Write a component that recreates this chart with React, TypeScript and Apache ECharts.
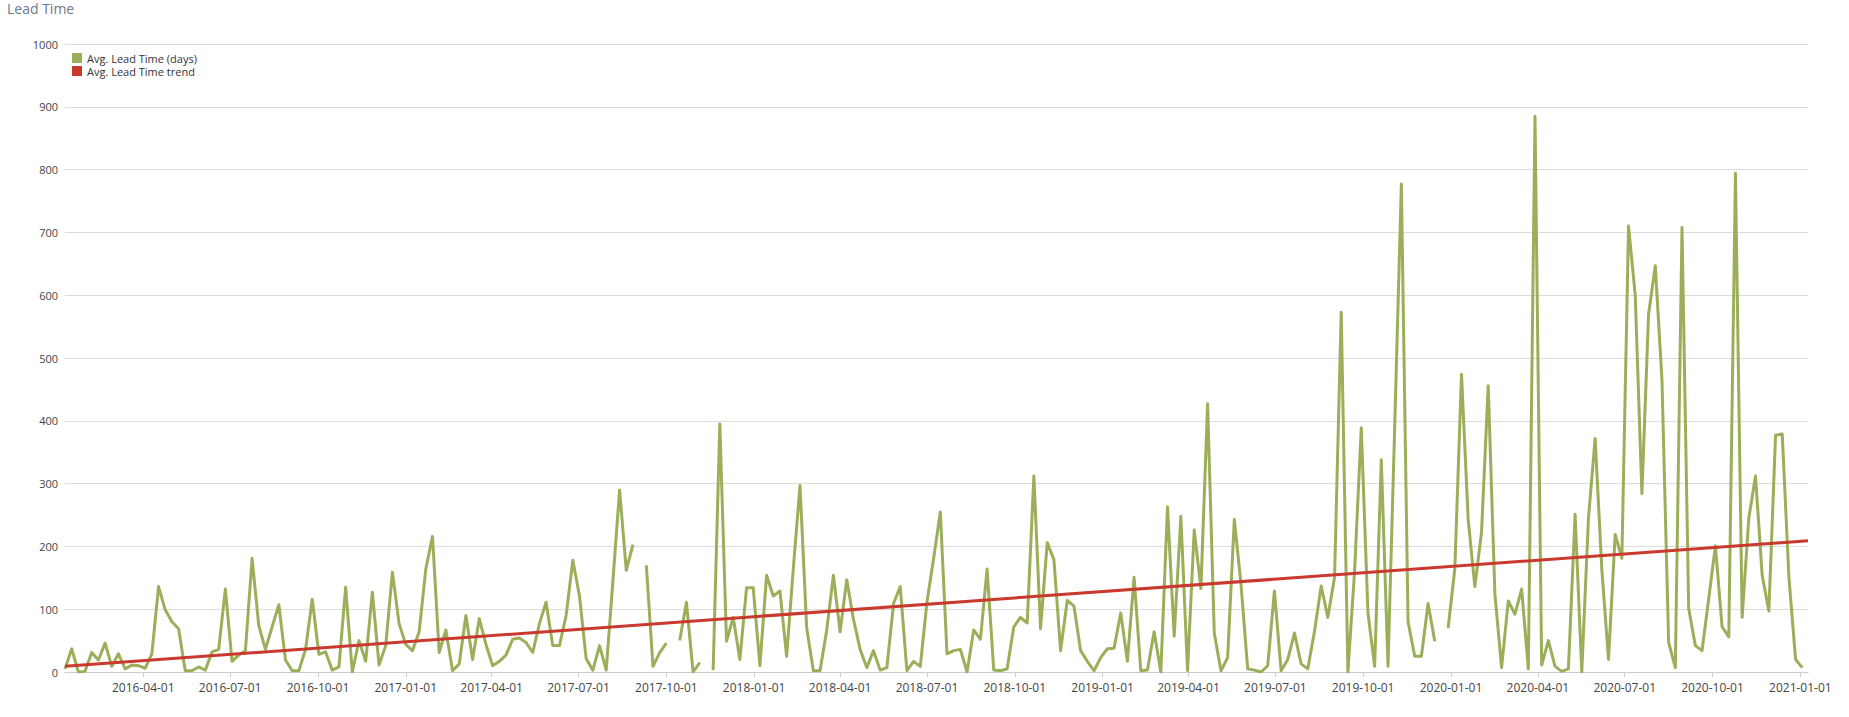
import React, { useEffect, useRef } from 'react';
import * as echarts from 'echarts';

// first weekly bucket and end of the time axis
const startWeek = '2016-01-10';
const axisEnd = '2021-01-09';

// Avg. Lead Time (days), one value per week (null = no data)
const leadTime: (number | null)[] = [
  // 2016
  5, 37, 0, 1, 31, 19, 46, 9, 29, 5, 11, 10, 6, 29, 136, 99, 80, 69, 2, 2, 8, 3, 32, 36, 132, 17, 27, 34, 181, 74,
  36, 72, 107, 19, 2, 2, 36, 116, 28, 32, 3, 8, 135, 0, 50, 17, 127, 11, 42, 159, 77, 44, 34, 64, 164, 216, 31, 67, 2, 13,
  // 2017
  90, 20, 85, 44, 10, 17, 27, 52, 54, 47, 31, 77, 111, 42, 42, 90, 178, 121, 21, 3, 42, 3, 145, 290, 162, 203, null, 170, 9, 31,
  46, null, 50, 111, 0, 15, null, 3, 395, 49, 87, 20, 134, 134, 10, 154, 121, 129, 25, 165, 297, 70, 2, 2, 67, 154, 64, 147, 84, 36,
  // 2018
  7, 34, 3, 7, 109, 136, 2, 17, 9, 111, 181, 255, 29, 34, 36, 0, 67, 52, 164, 3, 2, 5, 72, 87, 78, 312, 69, 206, 179, 34,
  114, 105, 34, 17, 2, 23, 37, 38, 94, 17, 151, 2, 3, 64, 0, 263, 57, 248, 2, 226, 133, 427, 62, 2, 23, 243, 140, 5, 3, 0,
  // 2019
  10, 129, 2, 20, 62, 13, 5, 65, 137, 87, 151, 573, 0, 161, 389, 94, 9, 338, 9, 390, 777, 80, 25, 25, 109, 49, null, 70, 164, 474,
  243, 136, 223, 456, 124, 7, 113, 92, 132, 5, 885, 11, 50, 9, 1, 5, 251, 0, 245, 372, 164, 20, 219, 181, 710, 600, 284, 570, 647, 466,
  // 2020
  47, 7, 708, 101, 42, 34, 117, 201, 72, 56, 794, 87, 245, 312, 154, 97, 377, 379, 151, 20, 7,
];

// Avg. Lead Time trend (linear), at the axis start and end
const trendDates = ['2016-01-10', '2021-01-09'];
const trendValues = [9, 209];

// x-axis tick labels (quarter starts)
const tickLabels = [
  '2016-04-01', '2016-07-01', '2016-10-01',
  '2017-01-01', '2017-04-01', '2017-07-01', '2017-10-01',
  '2018-01-01', '2018-04-01', '2018-07-01', '2018-10-01',
  '2019-01-01', '2019-04-01', '2019-07-01', '2019-10-01',
  '2020-01-01', '2020-04-01', '2020-07-01', '2020-10-01',
  '2021-01-01',
];

const seriesNames = ['Avg. Lead Time (days)', 'Avg. Lead Time trend'];

const DAY = 86400000;
const toTs = (s: string) => {
  const [y, m, d] = s.split('-').map(Number);
  return Date.UTC(y, m - 1, d);
};
const fmt = (v: number) => new Date(v).toISOString().slice(0, 10);

export default function App() {
  const ref = useRef<HTMLDivElement>(null);

  useEffect(() => {
    const chart = echarts.init(ref.current!, null, { renderer: 'svg' });
    const t0 = toTs(startWeek);
    const weekData = leadTime.map((v, i) => [t0 + i * 7 * DAY, v]);
    const trendData = trendDates.map((d, i) => [toTs(d), trendValues[i]]);
    const tickValues = tickLabels.map(toTs);

    chart.setOption({
      animation: false,
      textStyle: { fontFamily: 'Open Sans' },
      title: {
        text: 'Lead Time',
        left: 7,
        top: 1,
        padding: 0,
        textStyle: { fontSize: 14, fontWeight: 'normal', color: '#6b7a89', fontFamily: 'Open Sans' },
      },
      legend: {
        orient: 'vertical',
        left: 72,
        top: 52,
        padding: 0,
        icon: 'rect',
        itemWidth: 10,
        itemHeight: 10,
        itemGap: 1,
        data: seriesNames,
        textStyle: { fontSize: 11, color: '#333', lineHeight: 12, fontFamily: 'Open Sans' },
      },
      grid: { left: 65, right: 41, top: 44, bottom: 45 },
      xAxis: {
        type: 'value',
        min: t0,
        max: toTs(axisEnd),
        splitLine: { show: false },
        axisLine: { lineStyle: { color: '#cccccc', width: 1 } },
        axisTick: { customValues: tickValues, length: 5, lineStyle: { color: '#cccccc' } },
        axisLabel: {
          customValues: tickValues,
          formatter: (v: number) => fmt(v),
          fontSize: 12,
          color: '#444',
          margin: 9,
          fontFamily: 'Open Sans',
        },
      },
      yAxis: {
        type: 'value',
        min: 0,
        max: 1000,
        interval: 100,
        axisLine: { show: false },
        axisTick: { show: false },
        splitLine: { lineStyle: { color: '#dcdcdc', width: 1 } },
        axisLabel: {
          fontSize: 11,
          color: '#444',
          margin: 7,
          fontFamily: 'Open Sans',
          formatter: (v: number) => String(v),
        },
      },
      series: [
        {
          name: seriesNames[0],
          type: 'line',
          data: weekData,
          symbol: 'none',
          connectNulls: false,
          color: '#9baf5a',
          lineStyle: { width: 3, color: '#9baf5a', join: 'round' },
        },
        {
          name: seriesNames[1],
          type: 'line',
          data: trendData,
          symbol: 'none',
          color: '#c9392e',
          lineStyle: { width: 3, color: '#c9392e' },
        },
      ],
    });

    return () => chart.dispose();
  }, []);

  return (
    <div
      ref={ref}
      style={{ position: 'absolute', left: 0, top: 0, width: 1849, height: 717 }}
    />
  );
}
